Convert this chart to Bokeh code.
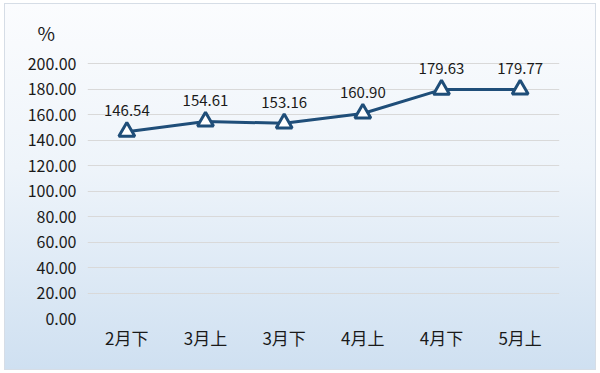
from bokeh.plotting import figure
from bokeh.models import ColumnDataSource, FactorRange, Range1d, FixedTicker, LabelSet, NumeralTickFormatter
from bokeh.core.properties import value
from bokeh.embed import file_html
from bokeh.resources import INLINE

categories = ["2月下", "3月上", "3月下", "4月上", "4月下", "5月上"]
values = [146.54, 154.61, 153.16, 160.90, 179.63, 179.77]
value_labels = ["146.54", "154.61", "153.16", "160.90", "179.63", "179.77"]
y_ticks = [0, 20, 40, 60, 80, 100, 120, 140, 160, 180, 200]

FONT = "'Noto Sans CJK SC', 'Noto Sans', sans-serif"
LINE_COLOR = "#1f4e79"
TEXT_COLOR = "#1a1a1a"

src = ColumnDataSource(dict(cat=categories, val=values, lab=value_labels))

p = figure(
    width=592, height=367,
    x_range=FactorRange(*categories, range_padding=0),
    y_range=Range1d(0, 215),
    output_backend="svg", toolbar_location=None,
    min_border_left=82, min_border_right=38, min_border_top=40, min_border_bottom=53,
)
p.styles = {
    "background": "linear-gradient(to bottom, #fbfcfe 0%, #eef4fa 45%, #cfe0f1 100%)",
    "border": "1px solid #d6dde6",
    "margin-left": "4px",
    "margin-top": "3px",
}
p.background_fill_color = None
p.border_fill_color = None
p.outline_line_color = None

p.title.text = "%"
p.title.align = "left"
p.title.offset = -50
p.title.standoff = -2
p.title.text_font = FONT
p.title.text_font_size = "19px"
p.title.text_font_style = "normal"
p.title.text_color = TEXT_COLOR

p.xgrid.grid_line_color = None
p.ygrid.grid_line_color = "#d9d9d9"
p.ygrid.grid_line_width = 1

p.yaxis.ticker = FixedTicker(ticks=y_ticks)
p.yaxis.formatter = NumeralTickFormatter(format="0.00")
for ax in (p.xaxis[0], p.yaxis[0]):
    ax.axis_line_color = None
    ax.major_tick_line_color = None
    ax.minor_tick_line_color = None
    ax.major_tick_out = 0
    ax.major_tick_in = 0
    ax.major_label_text_font = FONT
    ax.major_label_text_color = TEXT_COLOR
p.yaxis.major_label_text_font_size = "16px"
p.xaxis.major_label_text_font_size = "17px"
p.yaxis.major_label_standoff = 11
p.xaxis.major_label_standoff = 6

p.line("cat", "val", source=src, line_color=LINE_COLOR, line_width=3)
p.scatter("cat", "val", source=src, marker="triangle", size=16,
          fill_color="white", line_color=LINE_COLOR, line_width=3)

labels = LabelSet(x="cat", y="val", text="lab", source=src, y_offset=21,
                  text_align="center", text_baseline="middle",
                  text_font=value(FONT), text_font_size=value("15px"),
                  text_color=value(TEXT_COLOR))
p.add_layout(labels)

open("out.html", "w").write(file_html(p, INLINE))
